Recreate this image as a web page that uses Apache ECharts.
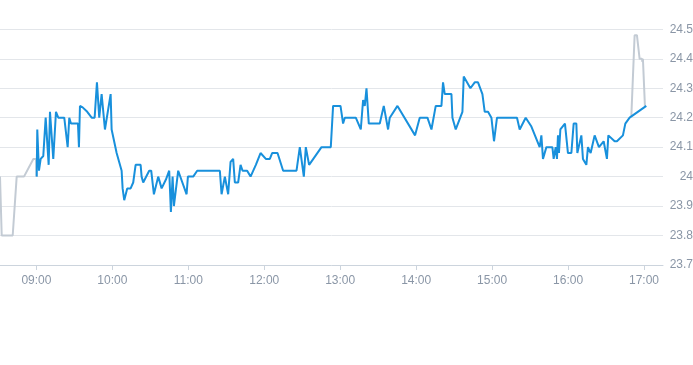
<!DOCTYPE html>
<html>
<head>
<meta charset="utf-8">
<script src="https://cdn.jsdelivr.net/npm/echarts@6/dist/echarts.min.js"></script>
<style>html,body{margin:0;padding:0;background:#fff}#c{width:693px;height:365px}</style>
</head>
<body>
<div id="c"></div>
<script>
// Extended-hours (grey) price points
const extTimes = ["08:31:15","08:32:36","08:41:17","08:44:26","08:50:12","08:57:35","08:59:43","09:00:13"];
const extValues = [24.0,23.8,23.8,24.0,24.0,24.06,24.06,24.0];
const postTimes = ["16:49:59","16:52:35","16:54:24","16:56:32","16:58:21","16:58:45","16:59:08","17:00:43"];
const postValues = [24.205,24.48,24.48,24.4,24.4,24.39,24.4,24.24];

// Regular session (blue) price points
const sessTimes = ["09:00:13","09:00:42","09:02:02","09:03:23","09:05:26","09:07:20","09:09:42","09:10:44","09:13:20","09:15:28","09:17:17","09:22:01","09:24:42","09:25:58","09:27:18","09:32:50","09:33:37","09:34:25","09:36:32","09:40:10","09:43:39","09:46:01","09:47:50","09:49:39","09:51:32","09:54:09","09:58:39","09:59:26","10:03:23","10:07:20","10:08:07","10:09:23","10:11:45","10:14:26","10:16:29","10:18:23","10:22:20","10:23:07","10:24:23","10:29:07","10:30:42","10:32:50","10:36:14","10:38:55","10:42:19","10:44:55","10:46:15","10:47:36","10:48:37","10:52:01","10:58:39","10:59:41","11:03:52","11:07:01","11:24:56","11:26:17","11:28:53","11:31:29","11:33:23","11:35:26","11:36:47","11:39:23","11:41:17","11:42:52","11:46:29","11:49:11","11:53:22","11:57:04","12:01:15","12:04:25","12:06:14","12:10:29","12:14:55","12:25:29","12:28:06","12:31:16","12:32:50","12:35:26","12:45:14","12:52:34","12:54:23","13:00:14","13:02:17","13:03:38","13:12:19","13:16:16","13:18:05","13:19:25","13:20:46","13:22:35","13:31:16","13:34:25","13:37:49","13:39:10","13:45:14","13:59:08","14:02:50","14:08:55","14:12:05","14:15:28","14:19:58","14:21:14","14:22:35","14:27:52","14:28:40","14:31:16","14:36:33","14:37:35","14:42:52","14:46:16","14:48:52","14:52:20","14:54:10","14:56:46","14:59:27","15:01:30","15:03:52","15:19:40","15:21:47","15:26:32","15:31:02","15:37:35","15:38:55","15:40:11","15:42:52","15:47:37","15:48:38","15:50:13","15:51:14","15:52:02","15:52:49","15:53:55","15:57:33","15:59:55","16:02:37","16:04:25","16:06:33","16:07:20","16:10:30","16:11:46","16:14:27","16:15:43","16:17:50","16:21:00","16:24:24","16:28:07","16:30:43","16:31:49","16:36:47","16:38:37","16:43:21","16:45:14","16:46:30","16:48:38","17:01:49"];
const sessValues = [24.0,24.16,24.02,24.06,24.07,24.2,24.04,24.22,24.06,24.22,24.2,24.2,24.1,24.2,24.18,24.18,24.1,24.24,24.235,24.22,24.2,24.2,24.32,24.2,24.28,24.16,24.28,24.16,24.08,24.02,23.96,23.92,23.96,23.96,23.98,24.04,24.04,24.0,23.98,24.02,24.02,23.94,24.0,23.96,23.99,24.02,23.88,24.0,23.9,24.02,23.94,24.0,24.0,24.02,24.02,23.94,24.0,23.94,24.05,24.06,23.98,23.98,24.04,24.02,24.02,24.0,24.04,24.08,24.06,24.06,24.08,24.08,24.02,24.02,24.1,24.0,24.1,24.04,24.1,24.1,24.24,24.24,24.18,24.2,24.2,24.16,24.26,24.24,24.3,24.18,24.18,24.24,24.16,24.2,24.24,24.14,24.2,24.2,24.16,24.24,24.24,24.32,24.28,24.28,24.2,24.16,24.22,24.34,24.3,24.32,24.32,24.28,24.22,24.22,24.2,24.12,24.2,24.2,24.16,24.2,24.17,24.1,24.14,24.06,24.1,24.1,24.06,24.1,24.06,24.14,24.08,24.16,24.18,24.08,24.08,24.18,24.18,24.08,24.14,24.06,24.04,24.1,24.08,24.14,24.1,24.12,24.06,24.14,24.12,24.12,24.14,24.18,24.18,24.2,24.24];

const axisStart = "08:31:15";
const axisEnd = "17:15:00";

function ts(s){const p=s.split(":").map(Number);return new Date(2024,0,15,p[0],p[1],p[2]||0).getTime();}
function pairs(t,v){return t.map((x,i)=>[ts(x),v[i]]);}

const labelColor = '#8a96a6';
const chart = echarts.init(document.getElementById('c'), null, {renderer:'canvas'});
chart.setOption({
  animation:false,
  grid:{left:0,right:30,top:29.3,bottom:100,containLabel:false,outerBoundsMode:'none'},
  xAxis:{
    type:'time',
    min:ts(axisStart),max:ts(axisEnd),
    minInterval:3600000,maxInterval:3600000,
    splitLine:{show:false},
    axisLine:{lineStyle:{color:'#ccd4dd'}},
    axisTick:{show:true,length:5,lineStyle:{color:'#ccd4dd'}},
    axisLabel:{color:labelColor,fontSize:12,margin:10,fontFamily:'Liberation Sans, Arial, sans-serif',
      formatter:function(v){const d=new Date(v);return String(d.getHours()).padStart(2,'0')+':'+String(d.getMinutes()).padStart(2,'0');},
      showMinLabel:false,showMaxLabel:false}
  },
  yAxis:{
    type:'value',position:'right',min:23.7,max:24.5,interval:0.1,
    axisLine:{show:false},axisTick:{show:false},
    splitLine:{lineStyle:{color:'#e3e6ea'}},
    axisLabel:{color:labelColor,fontSize:12,align:'right',margin:30,fontFamily:'Liberation Sans, Arial, sans-serif',
      formatter:function(v){return String(Math.round(v*10)/10);}}
  },
  series:[
    {type:'line',data:pairs(extTimes,extValues),showSymbol:false,symbol:'none',lineStyle:{color:'#c3cbd4',width:2},itemStyle:{color:'#c3cbd4'}},
    {type:'line',data:pairs(postTimes,postValues),showSymbol:false,symbol:'none',lineStyle:{color:'#c3cbd4',width:2},itemStyle:{color:'#c3cbd4'}},
    {type:'line',data:pairs(sessTimes,sessValues),showSymbol:false,symbol:'none',lineStyle:{color:'#1890dc',width:2},itemStyle:{color:'#1890dc'}}
  ]
});
</script>
</body>
</html>
